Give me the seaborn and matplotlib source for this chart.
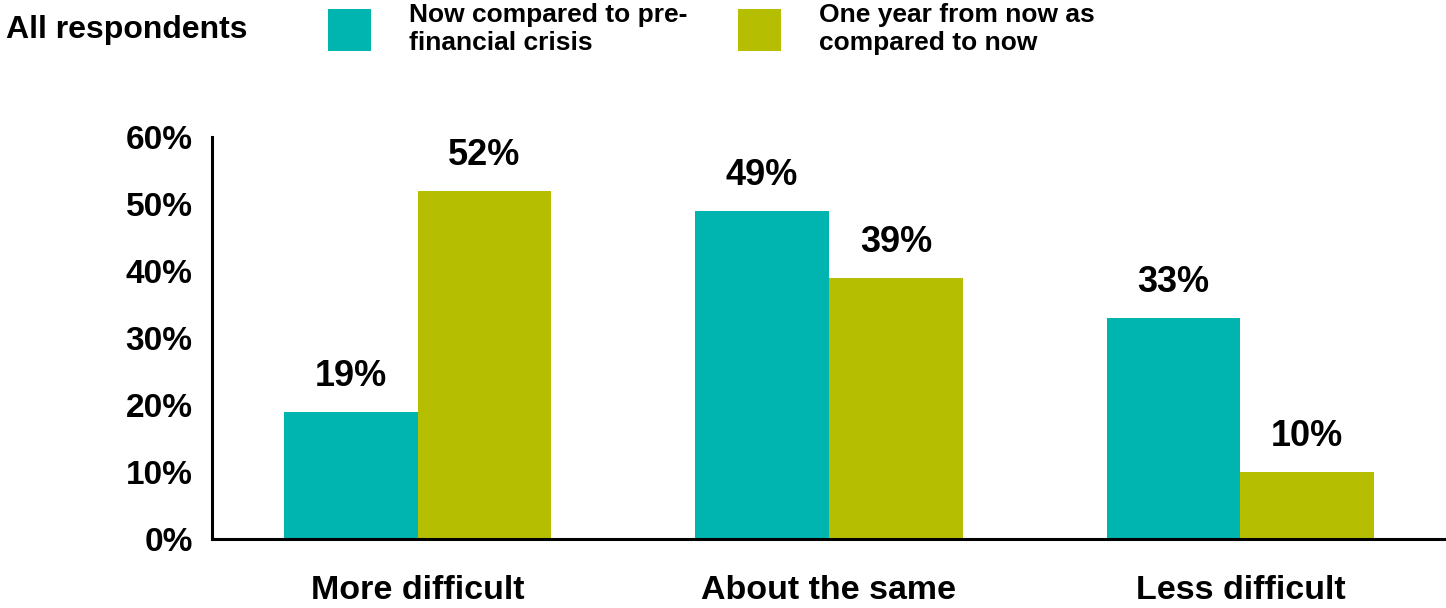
import matplotlib
matplotlib.use('Agg')
import seaborn as sns
import matplotlib.pyplot as plt
import pandas as pd

categories = ['More difficult', 'About the same', 'Less difficult']
series = ['Now compared to pre-\nfinancial crisis', 'One year from now as\ncompared to now']
now_vs_precrisis = [19, 49, 33]
year_from_now = [52, 39, 10]
yticks = [0, 10, 20, 30, 40, 50, 60]
colors = ['#00B5AF', '#B5BE00']

df = pd.DataFrame({
    'category': categories * 2,
    'series': [series[0]] * 3 + [series[1]] * 3,
    'value': now_vs_precrisis + year_from_now,
})

sns.set_style('white')
plt.rcParams['font.family'] = ['Liberation Sans', 'DejaVu Sans']
plt.rcParams['font.weight'] = 'bold'
plt.rcParams['text.color'] = 'black'
plt.rcParams['xtick.color'] = 'black'
plt.rcParams['ytick.color'] = 'black'

fig = plt.figure(figsize=(14.46, 6.08), dpi=100)
ax = fig.add_axes([0.1466, 0.1135, 0.8534, 0.6612])
sns.barplot(data=df, x='category', y='value', hue='series', palette=colors,
            width=0.65, saturation=1, linewidth=0, ax=ax)

for c in ax.containers:
    ax.bar_label(c, labels=[f'{v:.0f}%' for v in c.datavalues],
                 padding=13, fontsize=26, fontweight='bold', color='black')

ax.set_xlim(-0.5, 2.5)
ax.set_ylim(0, 60)
ax.set_yticks(yticks)
ax.set_yticklabels([f'{t}%' for t in yticks], fontsize=24, fontweight='bold')
ax.tick_params(axis='x', length=0, pad=26, labelsize=24.5, labelcolor='black')
ax.tick_params(axis='y', length=0, pad=14, labelcolor='black')
for lab in ax.get_xticklabels():
    lab.set_fontweight('bold')
ax.set_xlabel('')
ax.set_ylabel('')
sns.despine(ax=ax)
for s in ['left', 'bottom']:
    ax.spines[s].set_color('black')
    ax.spines[s].set_linewidth(2.2)
ax.spines['bottom'].set_clip_on(False)

sns.move_legend(ax, 'upper left', bbox_to_anchor=(0.2196, 1.012),
                bbox_transform=fig.transFigure, ncol=2, frameon=False,
                title=None, handlelength=1.63, handleheight=2.05,
                handletextpad=1.45, columnspacing=1.9, borderaxespad=0,
                labelspacing=0.2, prop={'weight': 'bold', 'size': 19})

fig.text(0.004, 0.95, 'All respondents', fontsize=23, fontweight='bold',
         va='center', ha='left', color='black')

fig.savefig('out.png', dpi=100)
